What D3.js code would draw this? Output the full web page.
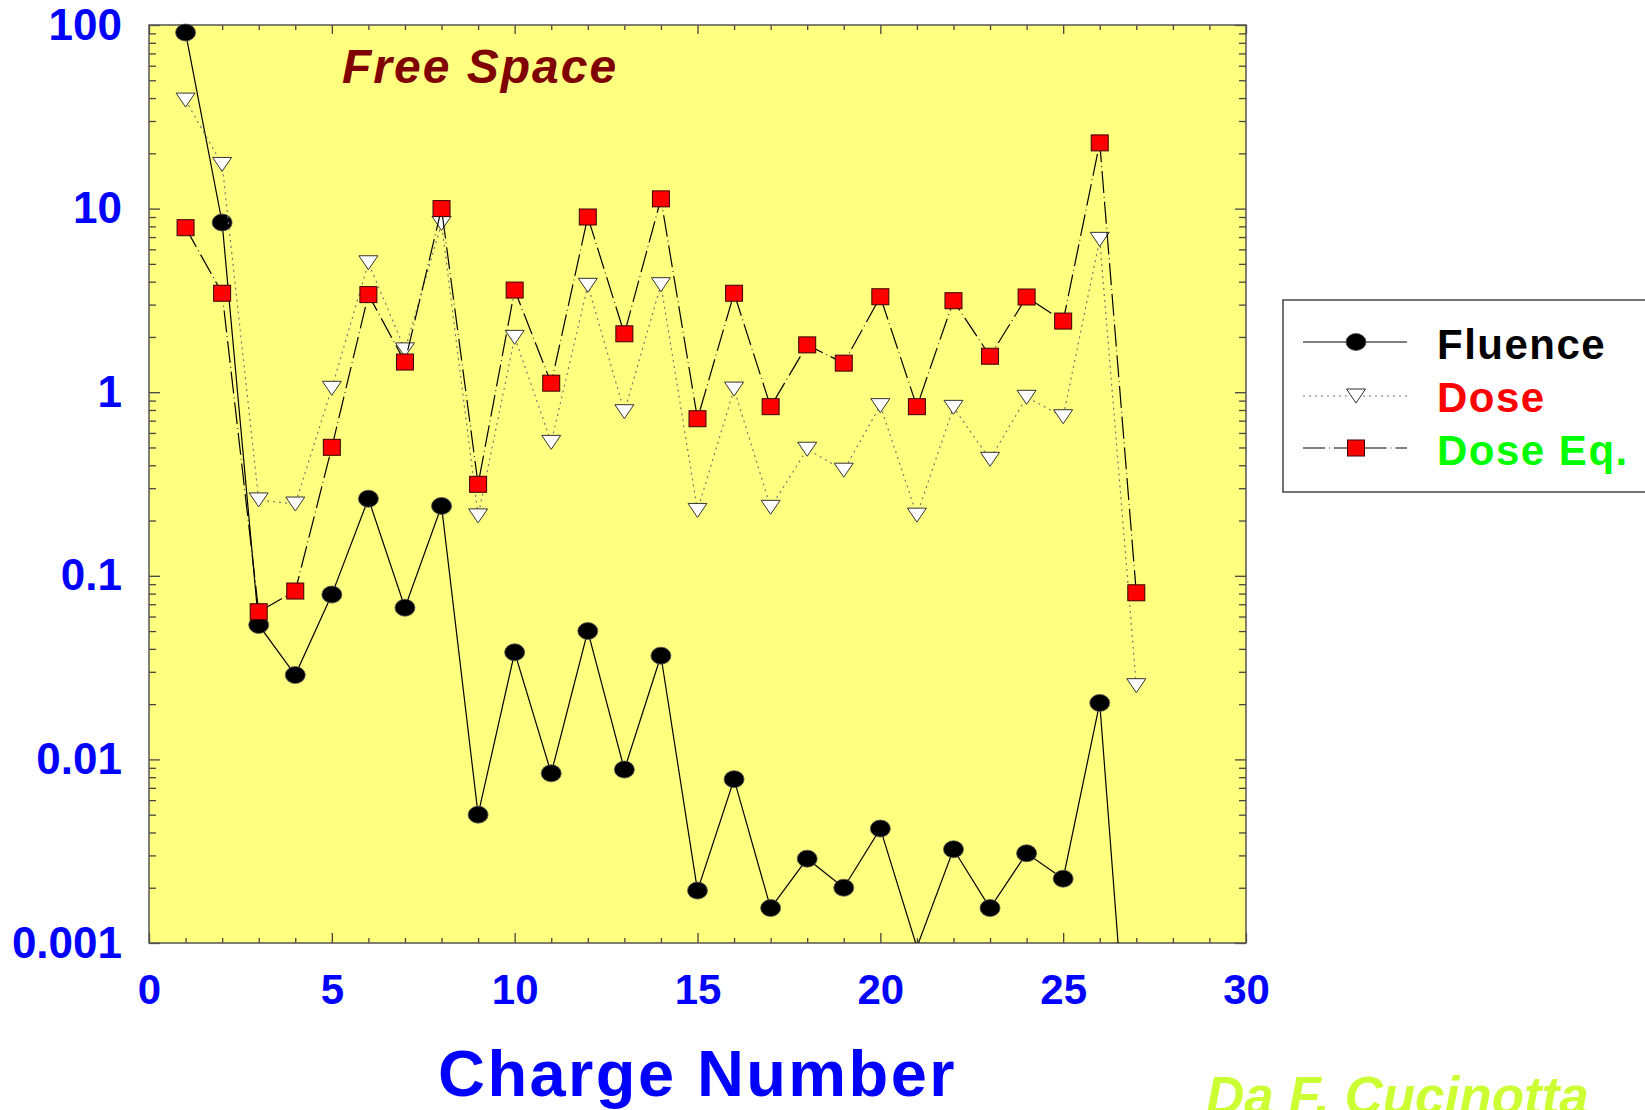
<!DOCTYPE html>
<html>
<head>
<meta charset="utf-8">
<script src="https://cdn.jsdelivr.net/npm/d3@7"></script>
<style>
  body { margin: 0; background: #fff; }
  svg { display: block; font-family: "Liberation Sans", Arial, sans-serif; }
</style>
</head>
<body>
<div id="chart-area"></div>
<script>
// valori (scala log)
var charge = d3.range(1, 28);
var fluence = [91, 8.4, 0.054, 0.0288, 0.079, 0.263, 0.067, 0.24, 0.005, 0.0383,
    0.0084, 0.05, 0.0088, 0.0367, 0.00193, 0.0078, 0.00155, 0.00288, 0.002, 0.0042,
    0.00095, 0.00324, 0.00155, 0.00308, 0.00224, 0.0203, 0.00005];
var dose = [39, 17.4, 0.259, 0.246, 1.05, 5.07, 1.7, 8.3, 0.212, 1.99,
    0.533, 3.82, 0.783, 3.85, 0.227, 1.04, 0.236, 0.489, 0.376, 0.845,
    0.214, 0.827, 0.431, 0.938, 0.735, 6.8, 0.0252];
var doseEq = [7.87, 3.46, 0.0637, 0.0826, 0.501, 3.4, 1.46, 10, 0.315, 3.6,
    1.12, 9, 2.08, 11.3, 0.717, 3.46, 0.834, 1.81, 1.44, 3.31,
    0.834, 3.15, 1.57, 3.3, 2.44, 22.8, 0.0808];

var xTicks = [0, 5, 10, 15, 20, 25, 30];
var yTicks = [0.001, 0.01, 0.1, 1, 10, 100];
var yTickLabels = ["0.001", "0.01", "0.1", "1", "10", "100"];
var seriesNames = ["Fluence", "Dose", "Dose Eq."];
var seriesColors = ["#000000", "#ff0000", "#00ff00"];

var W = 1645, H = 1110;
var pLeft = 149, pRight = 1246, pTop = 25, pBottom = 943;

var svg = d3.select("#chart-area").append("svg")
    .attr("width", W)
    .attr("height", H);

var x = d3.scaleLinear().domain([0, 30]).range([pLeft, pRight]);
var y = d3.scaleLog().domain([0.001, 100]).range([pBottom, pTop]);

// sfondo giallo
svg.append("rect")
    .attr("x", pLeft).attr("y", pTop)
    .attr("width", pRight - pLeft).attr("height", pBottom - pTop)
    .attr("fill", "#ffff80");

svg.append("clipPath").attr("id", "clip")
    .append("rect")
    .attr("x", pLeft).attr("y", pTop - 10)
    .attr("width", pRight - pLeft).attr("height", pBottom - pTop + 10);

// minor ticks
var minorY = [];
for (var e = -3; e < 2; e++) {
    for (var k = 2; k <= 9; k++) minorY.push(k * Math.pow(10, e));
}
var minorX = d3.range(0, 31).filter(function(d) { return d % 5 != 0; });

function styleAxis(g) {
    g.select(".domain").remove();
    g.selectAll("line").attr("stroke", "#444").attr("stroke-width", 1.3);
}

svg.append("g").attr("transform", "translate(0," + pBottom + ")")
    .call(d3.axisBottom(x).tickValues(minorX).tickSizeInner(-5).tickSizeOuter(0).tickFormat(""))
    .call(styleAxis);
svg.append("g").attr("transform", "translate(0," + pTop + ")")
    .call(d3.axisTop(x).tickValues(minorX).tickSizeInner(-5).tickSizeOuter(0).tickFormat(""))
    .call(styleAxis);
svg.append("g").attr("transform", "translate(0," + pTop + ")")
    .call(d3.axisTop(x).tickValues(xTicks).tickSizeInner(-9).tickSizeOuter(0).tickFormat(""))
    .call(styleAxis);
svg.append("g").attr("transform", "translate(" + pLeft + ",0)")
    .call(d3.axisLeft(y).tickValues(minorY).tickSizeInner(-7).tickSizeOuter(0).tickFormat(""))
    .call(styleAxis);
svg.append("g").attr("transform", "translate(" + pRight + ",0)")
    .call(d3.axisRight(y).tickValues(minorY).tickSizeInner(-7).tickSizeOuter(0).tickFormat(""))
    .call(styleAxis);
svg.append("g").attr("transform", "translate(" + pRight + ",0)")
    .call(d3.axisRight(y).tickValues(yTicks).tickSizeInner(-11).tickSizeOuter(0).tickFormat(""))
    .call(styleAxis);

var xAxis = svg.append("g").attr("transform", "translate(0," + pBottom + ")")
    .call(d3.axisBottom(x).tickValues(xTicks).tickSizeInner(-10).tickSizeOuter(0).tickPadding(31))
    .call(styleAxis);
xAxis.selectAll("text")
    .attr("fill", "#0000ff").attr("font-size", 42).attr("font-weight", "bold")
    .style("font-family", "'Liberation Sans', Arial, sans-serif");

var yAxis = svg.append("g").attr("transform", "translate(" + pLeft + ",0)")
    .call(d3.axisLeft(y).tickValues(yTicks).tickSizeInner(-11).tickSizeOuter(0).tickPadding(27)
        .tickFormat(function(d, i) { return yTickLabels[i]; }))
    .call(styleAxis);
yAxis.selectAll("text")
    .attr("fill", "#0000ff").attr("font-size", 44).attr("font-weight", "bold")
    .style("font-family", "'Liberation Sans', Arial, sans-serif");

// cornice
svg.append("rect")
    .attr("x", pLeft).attr("y", pTop)
    .attr("width", pRight - pLeft).attr("height", pBottom - pTop)
    .attr("fill", "none").attr("stroke", "#555").attr("stroke-width", 1.5);

// simboli
function drawCircle(g, cx, cy) {
    g.append("ellipse").attr("cx", cx).attr("cy", cy).attr("rx", 10).attr("ry", 8.5)
        .attr("fill", "#000").attr("stroke", "#555").attr("stroke-width", 0.8);
}
function drawTriangle(g, cx, cy) {
    g.append("path")
        .attr("d", "M" + (cx - 9.5) + "," + (cy - 7) + "L" + (cx + 9.5) + "," + (cy - 7) + "L" + cx + "," + (cy + 7) + "Z")
        .attr("fill", "#fff").attr("stroke", "#333").attr("stroke-width", 1);
}
function drawSquare(g, cx, cy) {
    g.append("rect").attr("x", cx - 8.5).attr("y", cy - 8).attr("width", 17).attr("height", 16)
        .attr("fill", "#ff0000").attr("stroke", "#3a0000").attr("stroke-width", 1);
}

var series = [
    { values: fluence, stroke: "#000", dash: null, marker: drawCircle },
    { values: dose, stroke: "#777", dash: "2,4", marker: drawTriangle },
    { values: doseEq, stroke: "#000", dash: "22,4,0.8,4", marker: drawSquare }
];

var line = d3.line()
    .x(function(d) { return x(d[0]); })
    .y(function(d) { return y(d[1]); });

var plot = svg.append("g").attr("clip-path", "url(#clip)");

series.forEach(function(s) {
    var pts = charge.map(function(c, i) { return [c, s.values[i]]; });
    plot.append("path")
        .datum(pts)
        .attr("d", line)
        .attr("fill", "none")
        .attr("stroke", s.stroke)
        .attr("stroke-width", 1.2)
        .attr("stroke-dasharray", s.dash);
    var mg = plot.append("g");
    pts.forEach(function(p) {
        if (p[1] >= 0.001) s.marker(mg, x(p[0]), y(p[1]));
    });
});

// titolo interno
svg.append("text")
    .attr("x", 342).attr("y", 83)
    .attr("fill", "#800000")
    .attr("font-size", 48).attr("font-weight", "bold").attr("font-style", "italic")
    .attr("letter-spacing", 2)
    .text("Free Space");

// etichetta asse x
svg.append("text")
    .attr("x", (pLeft + pRight) / 2).attr("y", 1096)
    .attr("text-anchor", "middle")
    .attr("fill", "#0000ff")
    .attr("font-size", 65).attr("font-weight", "bold")
    .attr("letter-spacing", 2.4)
    .text("Charge Number");

// legenda
var lg = svg.append("g");
lg.append("rect")
    .attr("x", 1283).attr("y", 300)
    .attr("width", 420).attr("height", 192)
    .attr("fill", "#fff").attr("stroke", "#444").attr("stroke-width", 1.5);

var legendRows = [342, 396, 448];
var legendBase = [359, 412, 465];
series.forEach(function(s, i) {
    lg.append("line")
        .attr("x1", 1303).attr("x2", 1407)
        .attr("y1", legendRows[i]).attr("y2", legendRows[i])
        .attr("stroke", s.stroke).attr("stroke-width", 1.2)
        .attr("stroke-dasharray", s.dash);
    s.marker(lg, 1356, legendRows[i]);
    lg.append("text")
        .attr("x", 1437).attr("y", legendBase[i])
        .attr("fill", seriesColors[i])
        .attr("font-size", 42).attr("font-weight", "bold")
        .attr("letter-spacing", 1.5)
        .text(seriesNames[i]);
});

// firma
svg.append("text")
    .attr("x", 1206).attr("y", 1114)
    .attr("fill", "#ccff33")
    .attr("font-size", 53).attr("font-weight", "bold").attr("font-style", "italic")
    .text("Da F. Cucinotta");
</script>
</body>
</html>
